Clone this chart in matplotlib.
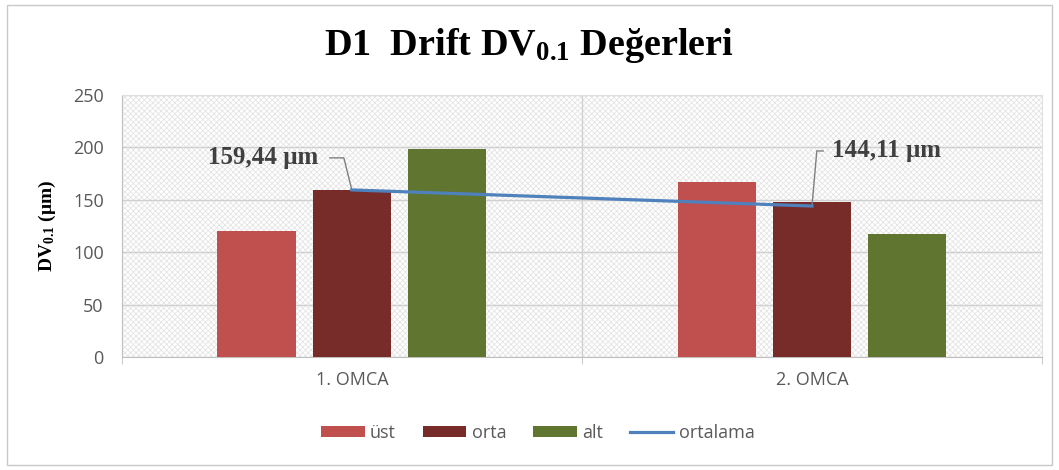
import matplotlib.pyplot as plt
import matplotlib
import numpy as np
from matplotlib.patches import Rectangle

matplotlib.rcParams['mathtext.fontset'] = 'custom'
matplotlib.rcParams['mathtext.rm'] = 'Liberation Serif:bold'
matplotlib.rcParams['mathtext.it'] = 'Liberation Serif:bold'
matplotlib.rcParams['mathtext.bf'] = 'Liberation Serif:bold'
matplotlib.rcParams['hatch.linewidth'] = 0.6

categories = ['1. OMCA', '2. OMCA']
ust = [120, 167]
orta = [159.4, 148]
alt = [198.5, 117]
ortalama = [159.44, 144.11]
ortalama_labels = ['159,44 μm', '144,11 μm']

colors = {'üst': '#C0504D', 'orta': '#772C2A', 'alt': '#5F7530', 'ortalama': '#4F81BD'}
sans = 'Open Sans'
tick_color = '#595959'
fs = 13

fig = plt.figure(figsize=(10.59, 4.70), dpi=100)
ax = fig.add_axes([0.115, 0.240, 0.869, 0.558])

# hatched plot-area background
ax.add_patch(Rectangle((0, 0), 1, 1, transform=ax.transAxes, facecolor='white',
                       edgecolor='#e4e4e4', hatch='xxxxxx', lw=0, zorder=0))

x = np.arange(len(categories))
w = 0.17
step = 0.207
b1 = ax.bar(x - step, ust, w, color=colors['üst'], label='üst', zorder=3)
b2 = ax.bar(x, orta, w, color=colors['orta'], label='orta', zorder=3)
b3 = ax.bar(x + step, alt, w, color=colors['alt'], label='alt', zorder=3)
l1, = ax.plot(x, ortalama, color=colors['ortalama'], lw=2.3, label='ortalama', zorder=4)

ax.set_xlim(-0.5, 1.5)
ax.set_ylim(0, 250)
ax.set_yticks(np.arange(0, 251, 50))
ax.set_xticks(x)
ax.set_xticklabels(categories, fontsize=fs, family=sans, color=tick_color)
ax.set_xticks([-0.5, 0.5, 1.5], minor=True)
ax.tick_params(axis='x', which='major', length=0, pad=10)
ax.tick_params(axis='x', which='minor', length=5, color='#bfbfbf')
ax.tick_params(axis='y', length=0, pad=13, labelsize=fs, labelcolor=tick_color)
for lab in ax.get_yticklabels():
    lab.set_family(sans)

ax.grid(axis='y', color='#d0d0d0', lw=1, zorder=1)
ax.axvline(0.5, color='#d0d0d0', lw=1, zorder=1)
for s in ['top', 'right']:
    ax.spines[s].set_color('#e0e0e0')
for s in ['left', 'bottom']:
    ax.spines[s].set_color('#bfbfbf')

ax.set_ylabel(r'DV$_{0.1}$ (μm)', family='Liberation Serif', fontweight='bold',
              fontsize=14, labelpad=11)
fig.suptitle(r'D1  Drift DV$_{0.1}$ Değerleri', family='Liberation Serif',
             fontweight='bold', fontsize=27.5, y=0.945)

# data labels with leader lines
ax.annotate(ortalama_labels[0], xy=(x[0], ortalama[0]), xytext=(-0.312, 190),
            ha='left', va='center', family='Liberation Serif', fontweight='bold',
            fontsize=18, color='#404040',
            arrowprops=dict(arrowstyle='-', color='#7f7f7f', lw=1, relpos=(1, 0.5),
                            shrinkA=6, shrinkB=0,
                            connectionstyle='angle,angleA=0,angleB=104,rad=0'))
ax.annotate(ortalama_labels[1], xy=(x[1], ortalama[1]), xytext=(1.043, 196.6),
            ha='left', va='center', family='Liberation Serif', fontweight='bold',
            fontsize=18, color='#404040',
            arrowprops=dict(arrowstyle='-', color='#7f7f7f', lw=1, relpos=(0, 0.5),
                            shrinkA=4, shrinkB=0,
                            connectionstyle='angle,angleA=0,angleB=85,rad=0'))

leg = fig.legend(handles=[b1, b2, b3, l1], loc='center', bbox_to_anchor=(0.508, 0.079),
                 ncol=4, frameon=False, prop={'family': sans, 'size': fs},
                 handlelength=2.4, handleheight=0.55, columnspacing=1.5, handletextpad=0.3)
for t in leg.get_texts():
    t.set_color(tick_color)

# outer chart border
fig.add_artist(Rectangle((0.0066, 0.0106), 0.987, 0.979, transform=fig.transFigure,
                         fill=False, edgecolor='#c8c8c8', lw=1))

fig.savefig('out.png', dpi=100)
